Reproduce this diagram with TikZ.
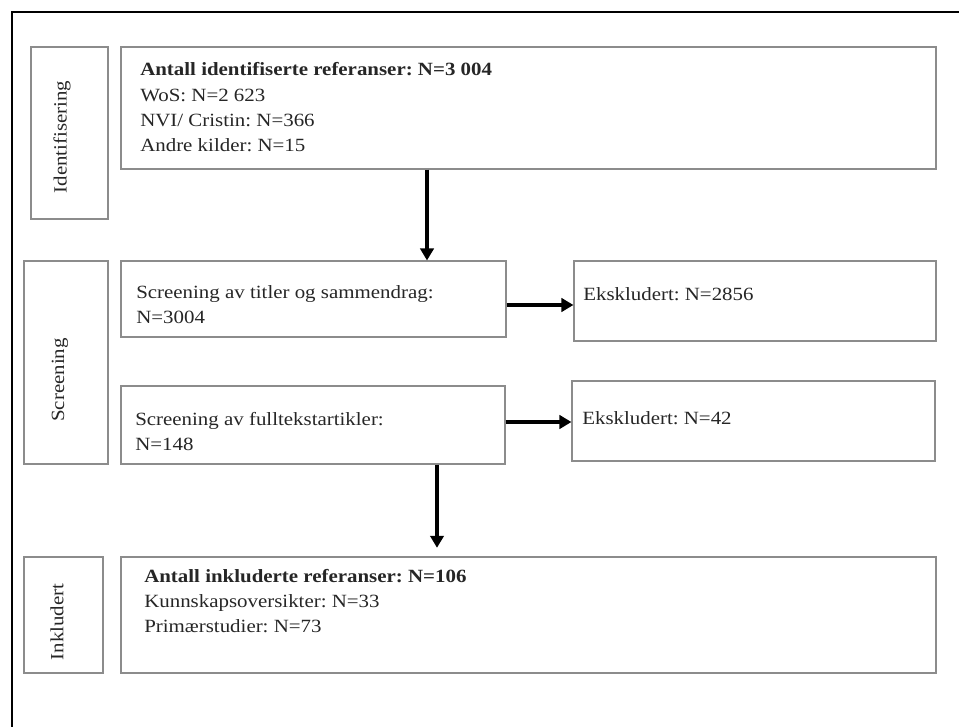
\documentclass[tikz,border=0pt]{standalone}
\usepackage{fontspec}
\setmainfont[FakeStretch=1.12]{Liberation Serif}
\usetikzlibrary{fit,arrows.meta}
\tikzset{
  x=0.75pt, y=-0.75pt,
  box/.style={draw=black!45, line width=0.8pt, inner sep=0pt},
  txt/.style={anchor=base west, inner sep=0pt, text=black!85, font=\fontsize{14pt}{18.9pt}\selectfont\frenchspacing},
  side/.style={rotate=90, anchor=center, inner sep=0pt, text=black!85, font=\fontsize{14pt}{18.75pt}\selectfont},
  arr/.style={line width=2.3pt, -{Triangle[length=9pt,width=10pt]}},
}
\begin{document}
\begin{tikzpicture}
\useasboundingbox (0,0) rectangle (959,727);
\clip (0,0) rectangle (959,727);
\fill[white] (0,0) rectangle (959,727);
\draw[line width=1.7pt] (12,12) rectangle (1000,1000);

% side boxes
\node[box, fit={(31,47) (108,219)}] (sidea) {};
\node[box, fit={(24,261) (108,464)}] (sideb) {};
\node[box, fit={(24,557) (103,673)}] (sidec) {};
\node[side] (la) at (62,137) {Identifisering};
\node[side] (lb) at (60,380) {Screening};
\node[side] (lc) at (57,622) {Inkludert};

% main boxes
\node[box, fit={(121,47) (936,169)}] (ident) {};
\node[box, fit={(121,261) (506,337)}] (scr1) {};
\node[box, fit={(121,386) (505,464)}] (scr2) {};
\node[box, fit={(574,261) (936,341)}] (eks1) {};
\node[box, fit={(572,381) (935,461)}] (eks2) {};
\node[box, fit={(121,557) (936,673)}] (incl) {};

% texts
\node[txt] (tident) at (140,76) {\begin{tabular}[t]{@{}l@{}}\textbf{Antall identifiserte referanser: N=3 004}\\WoS: N=2 623\\NVI/ Cristin: N=366\\Andre kilder: N=15\end{tabular}};
\node[txt] (tscr1) at (136,298) {\begin{tabular}[t]{@{}l@{}}Screening av titler og sammendrag:\\N=3004\end{tabular}};
\node[txt] (tscr2) at (135,425) {\begin{tabular}[t]{@{}l@{}}Screening av fulltekstartikler:\\N=148\end{tabular}};
\node[txt] (teks1) at (583,300) {Ekskludert: N=2856};
\node[txt] (teks2) at (582,424) {Ekskludert: N=42};
\node[txt] (tincl) at (144,582) {\begin{tabular}[t]{@{}l@{}}\textbf{Antall inkluderte referanser: N=106}\\Kunnskapsoversikter: N=33\\Primærstudier: N=73\end{tabular}};

% arrows
\draw[arr] (ident.south -| 427,0) -- (scr1.north -| 427,0);
\draw[arr] (scr1.east |- 0,305) -- (eks1.west |- 0,305);
\draw[arr] (scr2.east |- 0,422) -- (eks2.west |- 0,422);
\draw[arr] (scr2.south -| 437,0) -- ([yshift=6.5pt]incl.north -| 437,0);
\end{tikzpicture}
\end{document}
